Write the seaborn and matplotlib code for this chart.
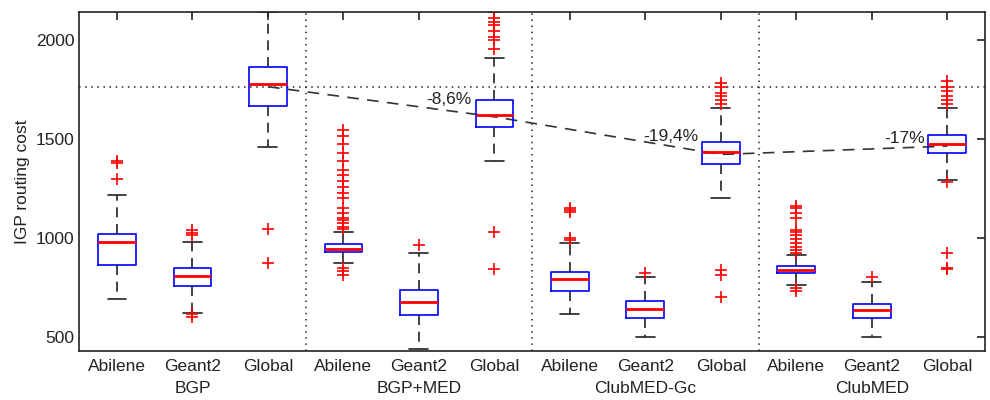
import numpy as np
import matplotlib
matplotlib.use("Agg")
import matplotlib.pyplot as plt
import seaborn as sns

# data
groups = ["BGP", "BGP+MED", "ClubMED-Gc", "ClubMED"]
networks = ["Abilene", "Geant2", "Global"]

whislo = [691, 623, 1460, 873, 439, 1387, 616, 500, 1202, 765, 500, 1294]
q1 = [864, 758, 1669, 929, 610, 1559, 731, 596, 1372, 822, 595, 1428]
med = [981, 810, 1780, 945, 679, 1623, 792, 643, 1433, 839, 637, 1477]
q3 = [1020, 849, 1865, 971, 738, 1699, 830, 681, 1483, 859, 665, 1521]
whishi = [1215, 982, 2143, 1033, 927, 1910, 977, 805, 1657, 915, 780, 1655]

outliers = [
    [1390, 1378, 1300],
    [1040, 1028, 1015, 615, 600],
    [1046, 876],
    [1547, 1513, 1477, 1430, 1387, 1345, 1320, 1286, 1257, 1227, 1202, 1151,
     1126, 1101, 1089, 1075, 1058, 1045, 850, 835, 815],
    [966],
    [2140, 2113, 2091, 2074, 2045, 2017, 2000, 1956, 1033, 843],
    [1150, 1140, 1130, 999, 991],
    [822],
    [1784, 1764, 1733, 1716, 1699, 1679, 839, 814, 701],
    [1163, 1151, 1129, 1101, 1041, 1033, 1016, 995, 977, 957, 940, 925, 746, 735],
    [802],
    [1792, 1764, 1741, 1716, 1699, 1679, 1281, 923, 850, 845],
]

global_mean = [1764, 1612, 1422, 1464]
gain_labels = ["", "-8,6%", "-19,4%", "-17%"]
gain_y = [0, 1697, 1513, 1500]

sns.set_style("white")
plt.rcParams["font.family"] = ["Liberation Sans", "DejaVu Sans"]
plt.rcParams["font.size"] = 12.5

fig = plt.figure(figsize=(9.9, 4.0), dpi=100)
ax = fig.add_axes([0.08, 0.1225, 0.915, 0.8485])

pos = np.arange(1, 13)
stats = []
for i in range(12):
    stats.append(dict(whislo=whislo[i], q1=q1[i], med=med[i], q3=q3[i],
                      whishi=whishi[i], fliers=outliers[i]))

ax.bxp(stats, positions=pos, widths=0.5, showfliers=True,
       boxprops=dict(color="blue", lw=1.2),
       medianprops=dict(color="red", lw=2),
       whiskerprops=dict(color="#222222", lw=1.2, ls=(0, (6, 4))),
       capprops=dict(color="#222222", lw=1.2),
       flierprops=dict(marker="+", markeredgecolor="red", markersize=9, mew=1.2))

# reference line and group separators
ax.axhline(global_mean[0], color="#222222", ls=(0, (1, 3)), lw=1.1, zorder=1)
for x in [3.5, 6.5, 9.5]:
    ax.axvline(x, color="#222222", ls=(0, (1, 3)), lw=1.1, zorder=1)

# mean of the global cost
gpos = pos[2::3]
sns.lineplot(x=gpos, y=global_mean, ax=ax, color="#333333", lw=1.2,
             linestyle=(0, (7, 5)), zorder=1)

for i in range(1, 4):
    ax.text(gpos[i] - 0.3, gain_y[i], gain_labels[i], ha="right", va="center",
            color="#222222")

ax.set_xlim(0.5, 12.5)
ax.set_ylim(430, 2143)
ax.set_yticks([500, 1000, 1500, 2000])
ax.set_xticks(pos)
ax.set_xticklabels(networks * 4)
ax.tick_params(direction="in", top=True, right=True, length=6, width=1.2,
               colors="#222222", labelcolor="#222222")
ax.tick_params(axis="x", pad=6)
for s in ax.spines.values():
    s.set_color("#222222")
    s.set_linewidth(1.2)

for g, name in enumerate(groups):
    ax.text(2 + 3 * g, -0.11, name, transform=ax.get_xaxis_transform(),
            ha="center", va="center", color="#222222")

ax.set_ylabel("IGP routing cost", color="#222222", labelpad=4)

fig.savefig("out.png", dpi=100)
